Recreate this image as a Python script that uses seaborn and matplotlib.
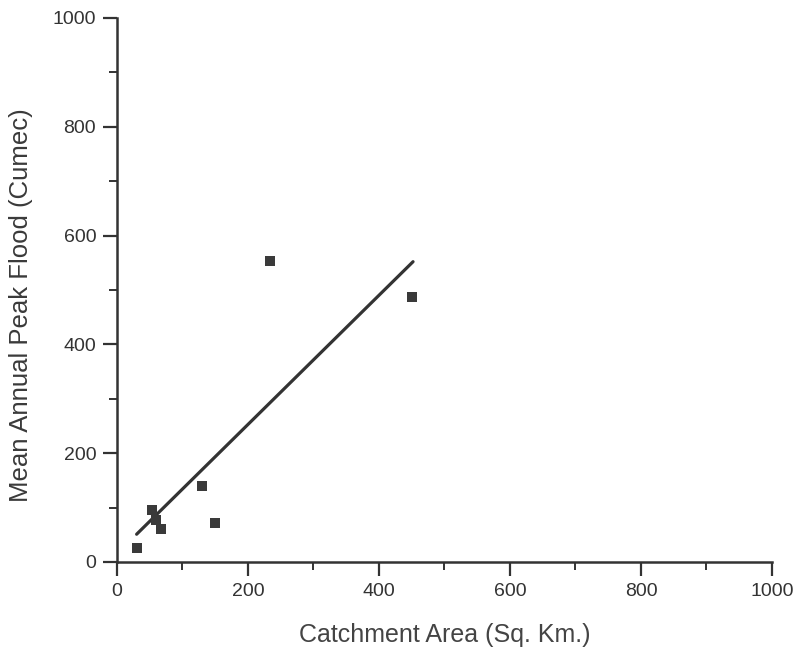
import matplotlib
matplotlib.use("Agg")
import matplotlib.pyplot as plt
import seaborn as sns
import pandas as pd
from matplotlib.ticker import MultipleLocator

# Data
catchment_area = [31, 53, 60, 67, 130, 150, 234, 450]
peak_flood = [25, 96, 77, 61, 140, 71, 553, 487]
fit_x = [30, 452]
fit_y = [51, 552]

sns.set_theme(style="white")
plt.rcParams['font.family'] = ['Liberation Sans', 'DejaVu Sans']

df = pd.DataFrame({"x": catchment_area, "y": peak_flood})
fit = pd.DataFrame({"x": fit_x, "y": fit_y})

fig = plt.figure(figsize=(7.99, 6.54), dpi=100)
ax = fig.add_axes([0.1464, 0.1407, 0.8198, 0.8318])

sns.lineplot(data=fit, x="x", y="y", ax=ax, color="#333333", linewidth=2.3)
sns.scatterplot(data=df, x="x", y="y", ax=ax, marker="s", s=52,
                color="#3a3a3a", edgecolor="none", zorder=3)

ax.set_xlim(0, 1000)
ax.set_ylim(0, 1000)
ax.xaxis.set_major_locator(MultipleLocator(200))
ax.xaxis.set_minor_locator(MultipleLocator(100))
ax.yaxis.set_major_locator(MultipleLocator(200))
ax.yaxis.set_minor_locator(MultipleLocator(100))

for s in ["top", "right"]:
    ax.spines[s].set_visible(False)
for s in ["left", "bottom"]:
    ax.spines[s].set_color("#333333")
    ax.spines[s].set_linewidth(1.8)

ax.tick_params(axis="both", which="major", direction="out", length=10, width=1.6,
               color="#333333", labelsize=14, labelcolor="#333333", pad=5,
               bottom=True, left=True)
ax.tick_params(axis="both", which="minor", direction="out", length=5.5, width=1.4,
               color="#333333", bottom=True, left=True)

ax.set_xlabel("Catchment Area (Sq. Km.)", fontsize=18, color="#444444")
ax.set_ylabel("Mean Annual Peak Flood (Cumec)", fontsize=18.5, color="#3a3a3a")
ax.xaxis.set_label_coords(0.5, -0.112)
ax.yaxis.set_label_coords(-0.128, 0.472)

fig.savefig("out.png", dpi=100, facecolor="white")
